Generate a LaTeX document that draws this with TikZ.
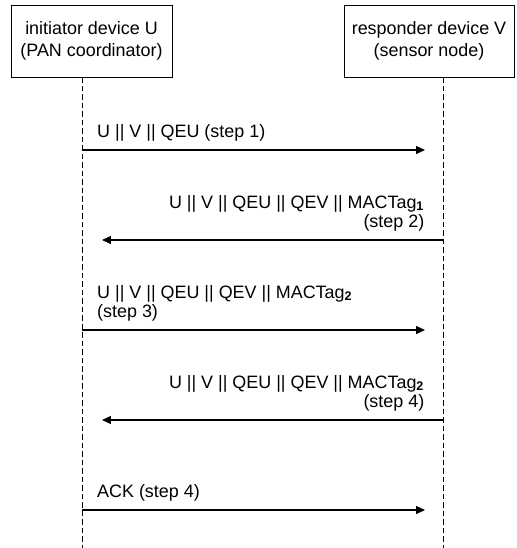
\documentclass[tikz,border=0pt]{standalone}
\usepackage{fontspec}
\setmainfont{Liberation Sans}
\usetikzlibrary{arrows.meta}

\begin{document}
\begin{tikzpicture}[
  device/.style={
      rectangle,
      draw,
      line width=0.55pt,
      text centered,
      align=center,
      minimum height=1.44cm,
      font=\fontsize{10.2}{12.3}\selectfont
  },
  lifeline/.style={
      line width=0.55pt,
      dash pattern=on 0.11cm off 0.06cm
  },
  msg/.style={
      -{Triangle[length=0.18cm,width=0.16cm]},
      line width=0.8pt
  },
  msgtext/.style={
      inner sep=0pt,
      yshift=0.16cm,
      font=\fontsize{10.2}{11}\selectfont
  },
  msgleft/.style={
      msgtext,
      anchor=south west,
      xshift=0.29cm,
      align=left
  },
  msgright/.style={
      msgtext,
      anchor=south east,
      xshift=-0.36cm,
      align=right
  }
]

\useasboundingbox (0,0) rectangle (10.32,-10.96);

% ==================================================
% Devices
% ==================================================

\node[
    device,
    minimum width=3.22cm
] (U) at (1.83,-0.82)
{
initiator device U\\
(PAN coordinator)
};

\node[
    device,
    minimum width=3.4cm
] (V) at (8.58,-0.82)
{
responder device V\\
(sensor node)
};

% ==================================================
% Lifelines
% ==================================================

\coordinate (uEnd) at (1.64,-10.96);
\coordinate (vEnd) at (8.86,-10.96);

\draw[lifeline]
([xshift=-0.19cm]U.south) -- (uEnd);

\draw[lifeline]
([xshift=0.28cm]V.south) -- (vEnd);

% message points on the lifelines
\coordinate (u1) at (1.64,-3.0);
\coordinate (v1) at (8.86,-3.0);
\coordinate (u2) at (1.64,-4.8);
\coordinate (v2) at (8.86,-4.8);
\coordinate (u3) at (1.64,-6.6);
\coordinate (v3) at (8.86,-6.6);
\coordinate (u4) at (1.64,-8.4);
\coordinate (v4) at (8.86,-8.4);
\coordinate (u5) at (1.64,-10.2);
\coordinate (v5) at (8.86,-10.2);

% ==================================================
% Messages
% ==================================================

\draw[msg, shorten >=0.36cm]
(u1) -- (v1)
node[pos=0, msgleft] (m1)
{U || V || QEU (step 1)};

\draw[msg, shorten >=0.4cm]
(v2) -- (u2)
node[pos=0, msgright] (m2)
{U || V || QEU || QEV || MACTag\textsubscript{\textbf{1}}\\
(step 2)};

\draw[msg, shorten >=0.36cm]
(u3) -- (v3)
node[pos=0, msgleft] (m3)
{U || V || QEU || QEV || MACTag\textsubscript{\textbf{2}}\\
(step 3)};

\draw[msg, shorten >=0.4cm]
(v4) -- (u4)
node[pos=0, msgright] (m4)
{U || V || QEU || QEV || MACTag\textsubscript{\textbf{2}}\\
(step 4)};

\draw[msg, shorten >=0.36cm]
(u5) -- (v5)
node[pos=0, msgleft] (m5)
{ACK (step 4)};

\end{tikzpicture}
\end{document}
